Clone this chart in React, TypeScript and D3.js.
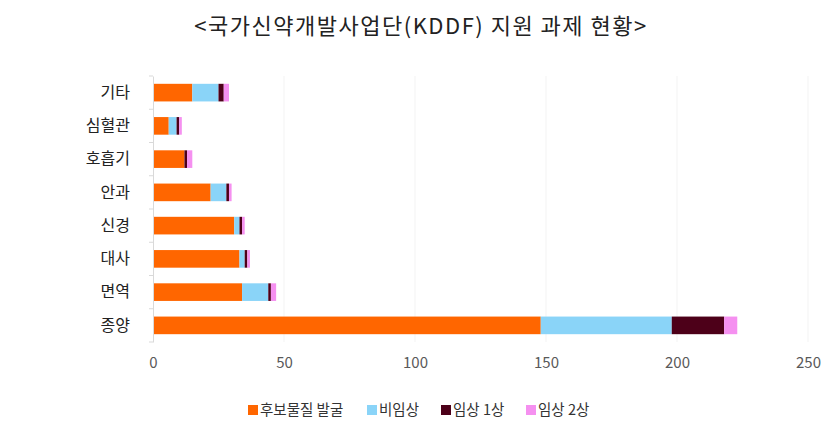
import { useEffect, useRef } from "react";
import * as d3 from "d3";

// categories top -> bottom
const categories = ["기타", "심혈관", "호흡기", "안과", "신경", "대사", "면역", "종양"];
const seriesNames = ["후보물질 발굴", "비임상", "임상 1상", "임상 2상"];
const seriesColors = ["#ff6600", "#8ad4f8", "#4d0019", "#f590f0"];
// values per series, same order as categories
const discovery = [15, 6, 12, 22, 31, 33, 34, 148];
const preclinical = [10, 3, 0, 6, 2, 2, 10, 50];
const phase1 = [2, 1, 1, 1, 1, 1, 1, 20];
const phase2 = [2, 1, 2, 1, 1, 1, 2, 5];
const xTicks = [0, 50, 100, 150, 200, 250];

const W = 836;
const H = 438;
const FONT = "'Noto Sans CJK KR', 'Noto Sans', sans-serif";

const App: React.FC = () => {
    const svgRef = useRef<SVGSVGElement | null>(null);

    useEffect(() => {
        if (!svgRef.current) return;
        const svg = d3.select(svgRef.current);
        svg.selectAll("*").remove();

        const x = d3.scaleLinear().domain([0, 250]).range([153, 808]);
        const y = d3.scaleBand().domain(categories).range([76, 342])
            .paddingInner(0.47).paddingOuter(0.235);

        // title
        svg.append("text")
            .attr("x", 421).attr("y", 34)
            .attr("text-anchor", "middle")
            .style("font-family", FONT)
            .style("font-size", "22px")
            .style("letter-spacing", "1.5px")
            .style("fill", "#222")
            .text("<국가신약개발사업단(KDDF) 지원 과제 현황>");

        // faint gridlines
        svg.append("g").selectAll("line")
            .data(xTicks.slice(1))
            .enter().append("line")
            .attr("x1", d => x(d)).attr("x2", d => x(d))
            .attr("y1", 76).attr("y2", 342)
            .style("stroke", "#f3f3f3");

        // stacked data
        const rows = categories.map((c, i) => ({
            cat: c, s0: discovery[i], s1: preclinical[i], s2: phase1[i], s3: phase2[i],
        }));
        const stack = d3.stack<typeof rows[0]>().keys(["s0", "s1", "s2", "s3"]);
        const layers = stack(rows);

        svg.append("g").selectAll("g")
            .data(layers)
            .enter().append("g")
            .style("fill", (_d, i) => seriesColors[i])
            .selectAll("rect")
            .data(d => d)
            .enter().append("rect")
            .attr("x", d => x(d[0]))
            .attr("y", d => y(d.data.cat) as number)
            .attr("width", d => Math.max(0, x(d[1]) - x(d[0])))
            .attr("height", y.bandwidth());

        // y axis
        const yAxis = svg.append("g")
            .attr("transform", `translate(${x(0)},0)`)
            .call(d3.axisLeft(y).tickSize(0).tickPadding(23));
        yAxis.select(".domain").style("stroke", "#d9d9d9");
        yAxis.selectAll("text")
            .style("font-family", FONT)
            .style("font-size", "16px")
            .style("fill", "#222");
        // tick marks at band boundaries
        const bounds = d3.range(categories.length + 1).map(i => 76 + i * y.step());
        yAxis.append("g").selectAll("line")
            .data(bounds)
            .enter().append("line")
            .attr("x1", -4).attr("x2", 0)
            .attr("y1", d => d).attr("y2", d => d)
            .style("stroke", "#d9d9d9");

        // x axis labels
        const xAxis = svg.append("g")
            .attr("transform", "translate(0,355)")
            .call(d3.axisBottom(x).tickValues(xTicks).tickSize(0).tickPadding(0));
        xAxis.select(".domain").remove();
        xAxis.selectAll("text")
            .attr("dy", "0.85em")
            .style("font-family", FONT)
            .style("font-size", "15px")
            .style("fill", "#595959");

        // legend
        const legendX = [248, 367, 441, 526];
        const legend = svg.append("g").selectAll("g")
            .data(seriesNames)
            .enter().append("g")
            .attr("transform", (_d, i) => `translate(${legendX[i]},410)`);
        legend.append("rect")
            .attr("x", 0).attr("y", -5)
            .attr("width", 10).attr("height", 10)
            .style("fill", (_d, i) => seriesColors[i]);
        legend.append("text")
            .attr("x", 12).attr("y", 0)
            .attr("dy", "0.35em")
            .style("font-family", FONT)
            .style("font-size", "14.5px")
            .style("fill", "#333")
            .text(d => d);
    }, []);

    return (
        <div style={{ position: "absolute", left: 0, top: 0, width: W, height: H, background: "#fff" }}>
            <svg ref={svgRef} width={W} height={H} style={{ display: "block" }} />
        </div>
    );
};

export default App;
